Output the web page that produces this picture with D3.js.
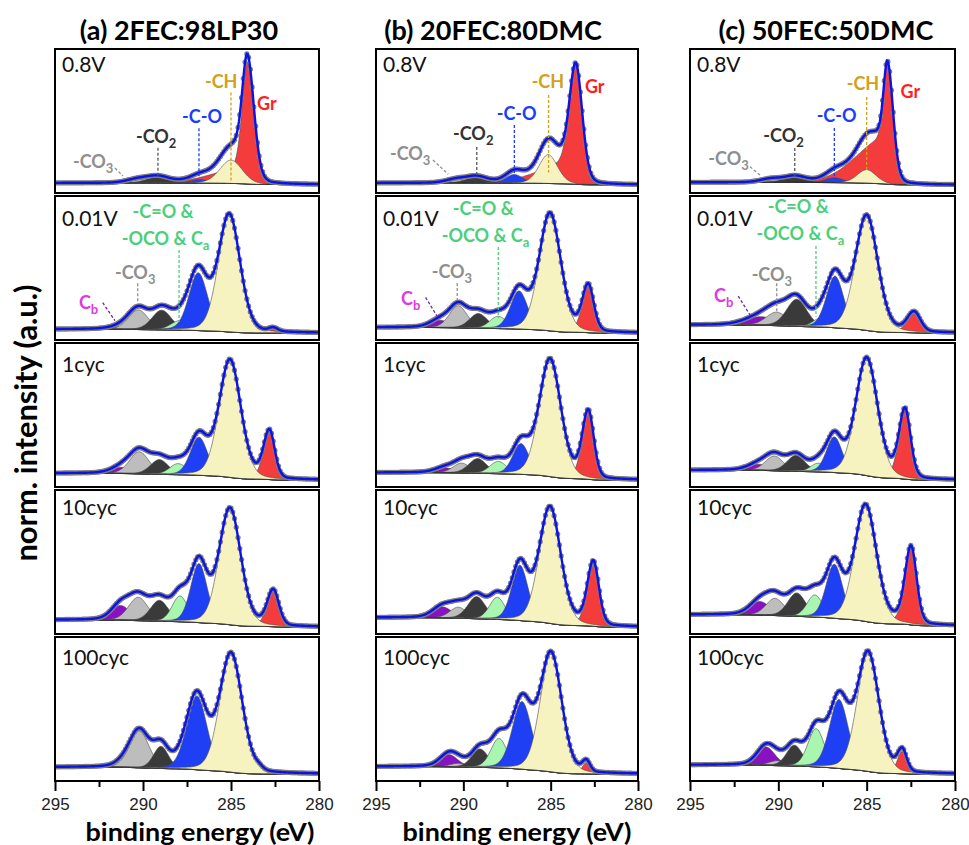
<!DOCTYPE html>
<html>
<head>
<meta charset="utf-8">
<script src="https://cdn.jsdelivr.net/npm/d3@7"></script>
<style>
  body { margin: 0; background: #fff; }
</style>
</head>
<body>
<div id="chart"></div>
<script>
var columnTitles = ["(a) 2FEC:98LP30", "(b) 20FEC:80DMC", "(c) 50FEC:50DMC"];
var rowNames = ["0.8V", "0.01V", "1cyc", "10cyc", "100cyc"];
var xTicks = [295, 290, 285, 280];
var xMinorTicks = [292.5, 287.5, 282.5];
// drawing order of the fitted components
var componentOrder = ["Gr", "Cb", "CO3", "CO2", "C=O", "C-O", "CH"];

// fitted peaks per row: [centre eV, height, fwhm]
// Gr: [centre, height, fwhm low-BE side, fwhm high-BE side, tail fraction, tail fwhm]
var peaksA = [
  { Gr: [284.07, 0.99, 0.88, 0.69, 0.12, 4.5], CH: [285.0, 0.19, 1.5], "C-O": [286.8, 0.03, 1.2], CO2: [289.15, 0.05, 1.5], CO3: [290.3, 0.03, 1.5] },
  { Gr: [282.6, 0.03, 0.6, 0.6, 0, 1], CH: [285.1, 0.95, 1.45], "C-O": [286.86, 0.47, 1.25], "C=O": [287.85, 0.08, 1.3], CO2: [288.94, 0.16, 1.3], CO3: [290.27, 0.16, 1.3], Cb: [291.1, 0.025, 1.5] },
  { Gr: [282.82, 0.39, 0.72, 0.78, 0.05, 2.5], CH: [285.06, 0.95, 1.45], "C-O": [286.82, 0.31, 1.15], "C=O": [288.0, 0.09, 1.15], CO2: [289.07, 0.12, 1.2], CO3: [290.21, 0.18, 1.3], Cb: [291.2, 0.05, 1.4] },
  { Gr: [282.6, 0.29, 0.76, 0.8, 0.05, 2.5], CH: [285.06, 0.94, 1.45], "C-O": [286.82, 0.48, 1.1], "C=O": [287.9, 0.21, 1.05], CO2: [289.07, 0.17, 1.2], CO3: [290.27, 0.19, 1.3], Cb: [291.27, 0.12, 1.25] },
  { Gr: [283.4, 0.02, 0.5, 0.5, 0, 1], CH: [285.0, 0.96, 1.5], "C-O": [286.94, 0.6, 1.35], "C=O": [287.85, 0.04, 1.1], CO2: [288.98, 0.18, 1.0], CO3: [290.21, 0.3, 1.3], Cb: [291.09, 0.03, 1.2] }
];
var peaksB = [
  { Gr: [283.57, 0.98, 0.88, 0.85, 0.17, 4.6], CH: [285.14, 0.235, 1.25], "C-O": [287.08, 0.07, 1.15], CO2: [289.24, 0.05, 1.4], CO3: [290.4, 0.03, 1.4] },
  { Gr: [282.85, 0.38, 0.75, 0.8, 0.05, 2.5], CH: [285.04, 0.95, 1.45], "C-O": [286.81, 0.31, 1.15], "C=O": [288.0, 0.1, 1.15], CO2: [289.14, 0.12, 1.2], CO3: [290.29, 0.18, 1.2], Cb: [291.34, 0.06, 1.3] },
  { Gr: [282.85, 0.55, 0.75, 0.8, 0.05, 2.5], CH: [285.04, 0.95, 1.45], "C-O": [286.7, 0.25, 1.1], "C=O": [288.0, 0.1, 1.15], CO2: [289.18, 0.12, 1.2], CO3: [290.1, 0.08, 1.15], Cb: [291.05, 0.04, 1.3] },
  { Gr: [282.56, 0.52, 0.76, 0.8, 0.05, 2.5], CH: [285.04, 0.94, 1.45], "C-O": [286.76, 0.45, 1.1], "C=O": [288.06, 0.18, 1.05], CO2: [289.24, 0.18, 1.2], CO3: [290.29, 0.09, 1.15], Cb: [291.2, 0.09, 1.3] },
  { Gr: [282.96, 0.09, 0.5, 0.55, 0, 1], CH: [284.98, 0.96, 1.45], "C-O": [286.64, 0.55, 1.3], "C=O": [287.96, 0.24, 1.1], CO2: [289.05, 0.15, 1.1], CO3: [290.29, 0.03, 1.1], Cb: [290.83, 0.1, 1.2] }
];
var peaksC = [
  { Gr: [283.83, 0.99, 0.76, 0.51, 0.37, 4.0], CH: [285.0, 0.11, 1.25], "C-O": [286.83, 0.04, 1.2], CO2: [289.06, 0.05, 1.4], CO3: [290.4, 0.03, 1.4] },
  { Gr: [282.32, 0.16, 0.85, 0.9, 0.05, 2.5], CH: [285.0, 0.93, 1.5], "C-O": [286.79, 0.42, 1.15], "C=O": [287.64, 0.07, 1.0], CO2: [288.96, 0.22, 1.35], CO3: [290.1, 0.11, 1.4], Cb: [291.0, 0.07, 2.0] },
  { Gr: [282.83, 0.56, 0.75, 0.8, 0.05, 2.5], CH: [285.0, 0.95, 1.45], "C-O": [286.83, 0.29, 1.05], "C=O": [287.74, 0.07, 1.0], CO2: [289.0, 0.13, 1.2], CO3: [290.23, 0.12, 1.2], Cb: [291.13, 0.05, 1.4] },
  { Gr: [282.49, 0.63, 0.75, 0.8, 0.05, 2.5], CH: [285.06, 0.94, 1.45], "C-O": [286.83, 0.44, 1.1], "C=O": [287.93, 0.18, 1.05], CO2: [288.96, 0.19, 1.2], CO3: [290.19, 0.14, 1.2], Cb: [291.04, 0.11, 1.35] },
  { Gr: [282.99, 0.18, 0.6, 0.65, 0, 1], CH: [284.92, 0.96, 1.45], "C-O": [286.57, 0.56, 1.25], "C=O": [287.86, 0.31, 1.1], CO2: [289.09, 0.17, 1.05], CO3: [290.07, 0.04, 1.1], Cb: [290.7, 0.15, 1.2] }
];

// background level at 295 eV and at 280 eV
var backgroundA = [[0.025, 0.012], [0.03, 0], [0.054, 0], [0.057, 0], [0.055, 0]];
var backgroundB = [[0.025, 0.01], [0.045, 0], [0.06, 0], [0.076, 0], [0.06, 0]];
var backgroundC = [[0.03, 0.01], [0.065, 0], [0.08, 0], [0.1, 0.01], [0.073, 0]];

// callouts: [text, subscript, component, eV, intensity] and leaders: [component, eV1, y1, eV2, y2]
var calloutsV08 = [
  [["-CH", "", "CH", 286.48, 0.797], ["Gr", "", "Gr", 283.52, 0.618], ["-C-O", "", "C-O", 287.78, 0.512], ["-CO", "2", "CO2", 290.4, 0.35], ["-CO", "3", "CO3", 293.98, 0.146]],
  [["-CH", "", "CH", 286.09, 0.797], ["Gr", "", "Gr", 283.04, 0.756], ["-C-O", "", "C-O", 288.09, 0.537], ["-CO", "2", "CO2", 290.59, 0.374], ["-CO", "3", "CO3", 294.2, 0.211]],
  [["-CH", "", "CH", 286.13, 0.78], ["Gr", "", "Gr", 283.08, 0.715], ["-C-O", "", "C-O", 287.83, 0.52], ["-CO", "2", "CO2", 290.85, 0.358], ["-CO", "3", "CO3", 293.96, 0.171]]
];
var leadersV08 = [
  [["CH", 285.0, 0.76, 285.0, 0.03], ["C-O", 286.82, 0.47, 286.82, 0.08], ["CO2", 289.15, 0.31, 289.15, 0.065], ["CO3", 291.59, 0.146, 291.14, 0.081]],
  [["CH", 285.12, 0.74, 285.12, 0.11], ["C-O", 287.08, 0.496, 287.08, 0.049], ["CO2", 289.23, 0.317, 289.23, 0.073], ["CO3", 291.74, 0.211, 290.86, 0.095]],
  [["CH", 285.0, 0.724, 285.0, 0.114], ["C-O", 286.83, 0.472, 286.83, 0.065], ["CO2", 289.07, 0.309, 289.07, 0.065], ["CO3", 291.6, 0.157, 291.04, 0.089]]
];
var calloutsV001 = [
  [["-C=O &", "", "C=O", 290.59, 0.933], ["-OCO & C", "a", "C=O", 291.21, 0.715], ["-CO", "3", "CO3", 291.59, 0.437], ["C", "b", "Cb", 293.64, 0.193]],
  [["-C=O &", "", "C=O", 290.61, 0.959], ["-OCO & C", "a", "C=O", 291.24, 0.742], ["-CO", "3", "CO3", 291.81, 0.445], ["C", "b", "Cb", 293.57, 0.228]],
  [["-C=O &", "", "C=O", 290.6, 0.973], ["-OCO & C", "a", "C=O", 291.23, 0.756], ["-CO", "3", "CO3", 291.51, 0.425], ["C", "b", "Cb", 293.64, 0.254]]
];
var leadersV001 = [
  [["C=O", 287.95, 0.675, 287.95, 0.092], ["CO3", 290.3, 0.404, 290.3, 0.241], ["Cb", 292.29, 0.246, 291.59, 0.1]],
  [["C=O", 288.0, 0.7, 288.0, 0.12], ["CO3", 290.35, 0.407, 290.35, 0.268], ["Cb", 292.16, 0.29, 291.49, 0.133]],
  [["C=O", 287.87, 0.707, 287.87, 0.133], ["CO3", 290.09, 0.404, 290.09, 0.16], ["Cb", 292.27, 0.3, 291.6, 0.146]]
];

var fillColor = { Gr: "#f43c3c", CH: "#f7f3c1", "C-O": "#1f3ff5", "C=O": "#a9f6b1", CO2: "#3a3a3a", CO3: "#bdbdbd", Cb: "#8a10c4" };
var textColor = { Gr: "#ff1f1f", CH: "#d4a017", "C-O": "#1a3cff", "C=O": "#4ccf7a", CO2: "#333333", CO3: "#8f8f8f", Cb: "#e03ae0" };
var leaderColor = { CH: "#d4a017", "C-O": "#1a3cff", "C=O": "#4ccf7a", CO2: "#555555", CO3: "#8f8f8f", Cb: "#7a2a9a" };

var colX = [[55, 319], [376, 638], [690, 955]];
var titleX = [179, 493, 826];
var rowLabelDy = [23, 30, 29, 25, 28];
var top0 = 49, rowStep = 147, panelH = 144;
var glMix = 0.2;

var svg = d3.select("#chart").append("svg")
  .attr("width", 969)
  .attr("height", 845)
  .style("font-family", "Lato, 'Open Sans', sans-serif");

var grid = d3.range(0, 301).map(function (i) { return 295 - i * 0.05 });

function gauss(d, w) { return Math.exp(-4 * Math.LN2 * d * d / (w * w)) }

function profile(p, e) {
  var d = e - p[0];
  var w = (p.length > 3 && d > 0) ? p[3] : p[2];
  var v = (1 - glMix) * gauss(d, w) + glMix / (1 + 4 * d * d / (w * w));
  if (p.length > 3 && d > 0) v = (1 - p[4]) * v + p[4] * gauss(d, p[5]);
  return p[1] * v;
}

var allPeaks = [peaksA, peaksB, peaksC];
var allBackgrounds = [backgroundA, backgroundB, backgroundC];

allPeaks.forEach(function (col, ci) {
  var x = d3.scaleLinear().domain([295, 280]).range(colX[ci]);

  svg.append("text")
    .attr("x", titleX[ci])
    .attr("y", 40)
    .attr("text-anchor", "middle")
    .attr("font-weight", "bold")
    .attr("font-size", 27)
    .text(columnTitles[ci]);

  col.forEach(function (peaks, ri) {
    var top = top0 + ri * rowStep;
    var y = d3.scaleLinear().domain([0, 1]).range([top + 137, top + 14]);
    var bg = allBackgrounds[ci][ri];
    var names = componentOrder.filter(function (n) { return peaks[n] });

    var pts = grid.map(function (e) {
      var o = { e: e, sum: 0 };
      names.forEach(function (n) { o[n] = profile(peaks[n], e); o.sum += o[n] });
      return o;
    });
    // Shirley type background
    var total = d3.sum(pts, function (d) { return d.sum }), acc = 0;
    for (var i = pts.length - 1; i >= 0; i--) {
      acc += pts[i].sum;
      pts[i].bg = bg[1] + (bg[0] - bg[1]) * acc / total;
    }

    var clipId = "clip-" + ci + "-" + ri;
    svg.append("clipPath").attr("id", clipId)
      .append("rect")
      .attr("x", colX[ci][0]).attr("y", top)
      .attr("width", colX[ci][1] - colX[ci][0]).attr("height", panelH);

    var g = svg.append("g").attr("clip-path", "url(#" + clipId + ")");

    names.forEach(function (n) {
      g.append("path")
        .datum(pts)
        .attr("fill", fillColor[n])
        .attr("stroke", "#4a4a4a")
        .attr("stroke-width", 0.6)
        .attr("d", d3.area()
          .x(function (d) { return x(d.e) })
          .y0(function (d) { return y(d.bg) })
          .y1(function (d) { return y(d.bg + d[n]) }));
    });

    g.append("path")
      .datum(pts)
      .attr("fill", "none")
      .attr("stroke", "#222")
      .attr("stroke-width", 0.8)
      .attr("d", d3.line().x(function (d) { return x(d.e) }).y(function (d) { return y(d.bg) }));

    g.selectAll("circle.pt")
      .data(pts.filter(function (d, i) { return i % 2 === 0 }))
      .enter()
      .append("circle")
      .attr("cx", function (d) { return x(d.e) })
      .attr("cy", function (d) { return y(d.bg + d.sum) })
      .attr("r", 2.6)
      .attr("fill", "#7d7d7d");

    g.append("path")
      .datum(pts)
      .attr("fill", "none")
      .attr("stroke", "#0a14e6")
      .attr("stroke-width", 2.4)
      .attr("d", d3.line().x(function (d) { return x(d.e) }).y(function (d) { return y(d.bg + d.sum) }));

    // callouts on the first two rows
    var callouts = ri === 0 ? calloutsV08[ci] : ri === 1 ? calloutsV001[ci] : [];
    var leaders = ri === 0 ? leadersV08[ci] : ri === 1 ? leadersV001[ci] : [];
    leaders.forEach(function (l) {
      svg.append("line")
        .attr("x1", x(l[1])).attr("y1", y(l[2]))
        .attr("x2", x(l[3])).attr("y2", y(l[4]))
        .attr("stroke", leaderColor[l[0]])
        .attr("stroke-width", 1.3)
        .attr("stroke-dasharray", "3,2");
    });
    callouts.forEach(function (c) {
      var t = svg.append("text")
        .attr("x", x(c[3])).attr("y", y(c[4]))
        .attr("font-size", 18)
        .attr("font-weight", "bold")
        .attr("fill", textColor[c[2]]);
      t.append("tspan").text(c[0]);
      if (c[1]) t.append("tspan").attr("dy", 5).attr("font-size", 13).text(c[1]);
    });

    svg.append("text")
      .attr("x", colX[ci][0] + 7)
      .attr("y", top + rowLabelDy[ri])
      .attr("font-size", 21)
      .attr("fill", "#111")
      .text(rowNames[ri]);

    svg.append("rect")
      .attr("x", colX[ci][0]).attr("y", top)
      .attr("width", colX[ci][1] - colX[ci][0]).attr("height", panelH)
      .attr("fill", "none")
      .attr("stroke", "#000")
      .attr("stroke-width", 2);
  });

  var axisY = top0 + 4 * rowStep + panelH;
  var ax = svg.append("g")
    .attr("transform", "translate(0," + axisY + ")")
    .call(d3.axisBottom(x).tickValues(xTicks).tickSize(10).tickPadding(7).tickFormat(d3.format("d")));
  ax.select(".domain").remove();
  ax.selectAll("line").attr("stroke-width", 2);
  ax.selectAll("text").attr("font-size", 17).attr("font-family", "'Liberation Sans', Arial, sans-serif").attr("fill", "#222");

  var axm = svg.append("g")
    .attr("transform", "translate(0," + axisY + ")")
    .call(d3.axisBottom(x).tickValues(xMinorTicks).tickSize(6).tickFormat(""));
  axm.select(".domain").remove();
  axm.selectAll("line").attr("stroke-width", 2);
});

// axis titles
[200, 517].forEach(function (cx) {
  svg.append("text")
    .attr("x", cx).attr("y", 841)
    .attr("text-anchor", "middle")
    .attr("font-weight", "bold")
    .attr("font-size", 24)
    .attr("textLength", 229)
    .attr("lengthAdjust", "spacingAndGlyphs")
    .text("binding energy (eV)");
});

svg.append("text")
  .attr("transform", "translate(37,423) rotate(-90)")
  .attr("text-anchor", "middle")
  .attr("font-weight", "bold")
  .attr("font-size", 30)
  .attr("textLength", 277)
  .attr("lengthAdjust", "spacingAndGlyphs")
  .text("norm. intensity (a.u.)");
</script>
</body>
</html>
